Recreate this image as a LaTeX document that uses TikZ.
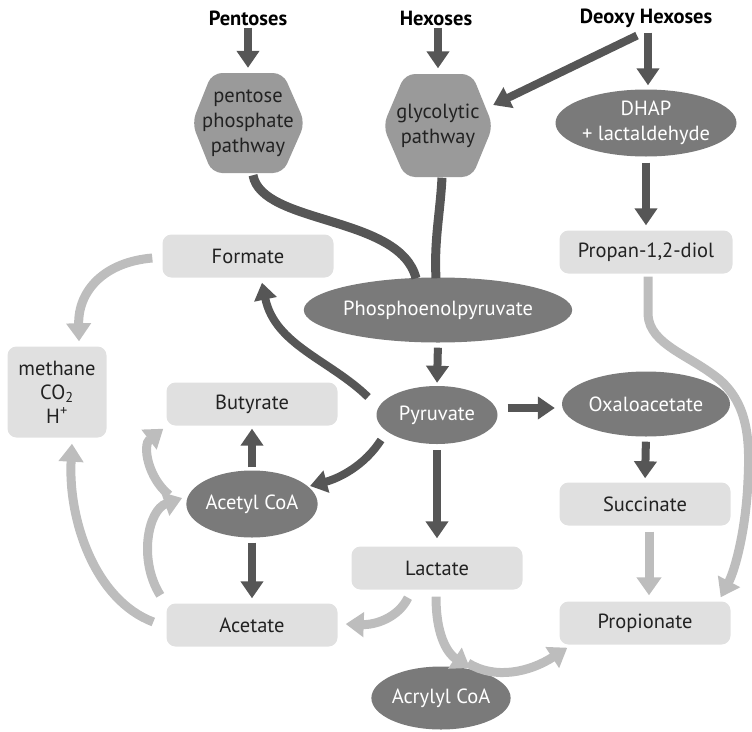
\documentclass[tikz,border=0pt]{standalone}
\usepackage{fontspec}
\setmainfont{PT Sans}
\usetikzlibrary{arrows.meta,shapes.geometric,calc}
\definecolor{darkarrow}{HTML}{565656}
\definecolor{lightarrow}{HTML}{BDBDBD}
\definecolor{boxgray}{HTML}{E0E0E0}
\definecolor{ovalgray}{HTML}{7A7A7A}
\definecolor{hexgray}{HTML}{9A9A9A}
\definecolor{textdark}{HTML}{222222}
\begin{document}
\begin{tikzpicture}[x=1pt,y=-1pt,
  lbl/.style={font=\fontsize{20.5}{25}\selectfont},
  headlbl/.style={font=\bfseries\fontsize{20.5}{22}\selectfont, text=black, inner sep=2pt},
  box/.style={lbl, rectangle, rounded corners=9pt, fill=boxgray, minimum width=171pt, minimum height=43pt, inner sep=0pt, text=textdark},
  oval/.style={lbl, ellipse, fill=ovalgray, inner sep=0pt, text=white, align=center},
  hexlbl/.style={lbl, align=center, inner sep=0pt, text=textdark},
  hexfill/.style={fill=hexgray, rounded corners=10pt},
  darr/.style={draw=darkarrow, line width=8pt, -{Triangle[width=22pt,length=17pt]}},
  dline/.style={draw=darkarrow, line width=9pt},
  larr/.style={draw=lightarrow, line width=9pt, -{Triangle[width=24pt,length=18pt]}}
]
\useasboundingbox (0,0) rectangle (752,731);

% hexagons
\fill[hexfill] (212,73) -- (283,73) -- (305,123) -- (283,173) -- (212,173) -- (192,123) -- cycle;
\fill[hexfill] (405,74) -- (472,74) -- (493,126) -- (472,177) -- (405,177) -- (383,126) -- cycle;
\node[hexlbl, minimum width=113pt, minimum height=100pt] (pent) at (248,123) {pentose\\phosphate\\pathway};
\node[hexlbl, minimum width=110pt, minimum height=103pt] (glyc) at (438,126) {glycolytic\\pathway};

% headers
\node[headlbl] (pentoses) at (248,18) {Pentoses};
\node[headlbl] (hexoses) at (436,18) {Hexoses};
\node[headlbl] (deoxy) at (646,18) {Deoxy Hexoses};

% ovals
\node[oval, minimum width=168pt, minimum height=67pt] (dhap) at (646,123) {DHAP\\+ lactaldehyde};
\node[oval, minimum width=241pt, minimum height=65pt] (pep) at (438,310) {Phosphoenolpyruvate};
\node[oval, minimum width=121pt, minimum height=58pt] (pyr) at (437,415) {Pyruvate};
\node[oval, minimum width=168pt, minimum height=65pt] (oxa) at (646,404) {Oxaloacetate};
\node[oval, minimum width=121pt, minimum height=67pt] (acoa) at (252,504) {Acetyl CoA};
\node[oval, minimum width=132pt, minimum height=63pt] (acr) at (441,698) {Acrylyl CoA};

% boxes
\node[box, minimum width=173pt] (propdiol) at (646,252) {Propan-1,2-diol};
\node[box] (formate) at (248,256) {Formate};
\node[box] (buty) at (252,404) {Butyrate};
\node[box] (succ) at (645,504) {Succinate};
\node[box] (lact) at (437,568) {Lactate};
\node[box] (prop) at (645,623) {Propionate};
\node[box] (acetate) at (252,625) {Acetate};
\node[box, minimum width=99pt, minimum height=91pt, align=center, font=\fontsize{20.5}{24}\selectfont] (meth) at (57,392) {methane\\CO\textsubscript{2}\\H\textsuperscript{+}};

% dark straight arrows
\draw[darr, shorten >=5pt] (pentoses.south) -- (pent.north);
\draw[darr, shorten >=6pt] (glyc.north |- hexoses.south) -- (glyc.north);
\draw[darr] ($(deoxy.south)+(-9,6)$) -- ($(glyc.east)+(0,-21)$);
\draw[darr, shorten <=3pt, shorten >=4pt] ($(deoxy.south)+(2,0)$) -- ($(dhap.north)+(2,0)$);
\draw[darr, shorten <=6pt, shorten >=5pt] (dhap.south) -- (propdiol.north);
\draw[darr, shorten <=5pt, shorten >=3pt] (pep.south) -- (pyr.north);
\draw[darr, shorten <=10pt, shorten >=7pt] ($(pyr.east)+(0,-7)$) -- ($(oxa.west)+(0,4)$);
\draw[darr, shorten <=5pt, shorten >=4pt] (oxa.south) -- (succ.north);
\draw[darr, shorten <=6pt, shorten >=8pt] (pyr.south) -- (lact.north);
\draw[darr, shorten <=3pt, shorten >=3pt] (acoa.north) -- (buty.south);
\draw[darr, shorten <=5pt, shorten >=5pt] (acoa.south) -- (acetate.north);

% dark curves
\draw[dline] ($(pent.south)+(5,2)$) .. controls (262,225) and (400,215) .. ($(pep.north)+(-22,1)$);
\draw[dline] ($(glyc.south)+(4,0)$) .. controls (440,215) and (434,240) .. ($(pep.north)+(-2,1)$);
\draw[darr] ($(pyr)+(-69,-18)$) .. controls (330,360) and (275,345) .. ($(formate.south)+(14,5)$);
\draw[darr] ($(pyr)+(-56,25)$) .. controls (365,465) and (340,478) .. ($(acoa)+(58,-18)$);

% light arrows
\draw[larr, shorten <=6pt, shorten >=6pt] ($(succ.south)+(4,0)$) -- ($(prop.north)+(4,0)$);
\draw[larr] ($(formate.west)+(-10,2)$) .. controls (105,262) and (78,290) .. ($(meth.north)+(22,-5)$);
\draw[larr] ($(acetate.west)+(-13,-3)$) .. controls (95,600) and (68,520) .. ($(meth.south)+(15,6)$);
\draw[larr] ($(acetate.north west)+(-6,-8)$) .. controls (138,560) and (148,510) .. ($(acoa.west)+(-4,-6)$);
\draw[larr] ($(acoa.west)+(-17,-9)$) .. controls (148,478) and (142,445) .. ($(buty.south west)+(-3,3)$);
\draw[larr] ($(lact.south)+(-29,8)$) .. controls (398,618) and (375,625) .. ($(acetate.east)+(8,-1)$);
\draw[larr] ($(lact.south)+(-1,7)$) .. controls (436,640) and (450,655) .. ($(acr)+(29,-30)$);
\draw[larr] ($(acr)+(27,-35)$) .. controls (495,680) and (530,672) .. ($(prop.south west)+(8,3)$);
\draw[larr] ($(propdiol.south)+(2,3)$) -- (648,315) .. controls (650,345) and (690,355) .. (720,380)
  .. controls (748,405) and (750,440) .. (748,480) .. controls (746,530) and (735,570) .. ($(prop.north east)+(-10,-4)$);
\end{tikzpicture}
\end{document}
